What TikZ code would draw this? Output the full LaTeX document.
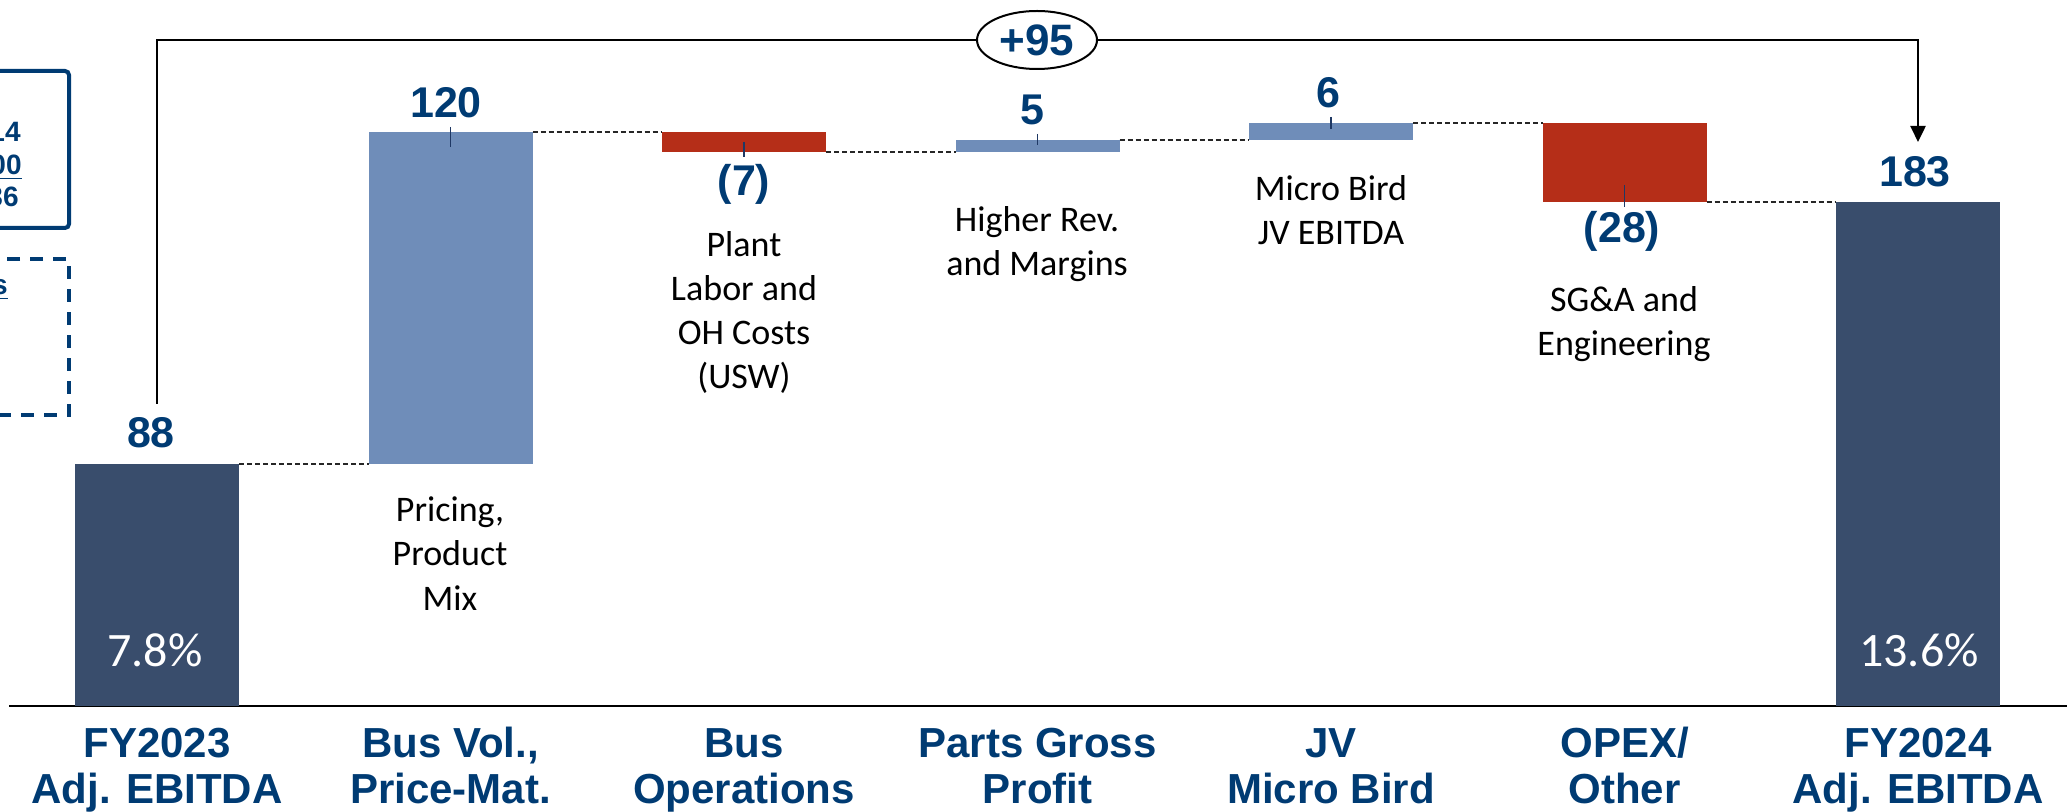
\documentclass[tikz,border=0pt]{standalone}
\usepackage{fontspec}
\setmainfont{Liberation Sans}
\newfontfamily\carl{Carlito}
\usetikzlibrary{arrows.meta,shapes.geometric}
\definecolor{navy}{HTML}{003B73}
\definecolor{darkbar}{HTML}{394D6C}
\definecolor{lightbar}{HTML}{6F8DB9}
\definecolor{redbar}{HTML}{B52E18}
\definecolor{tickc}{HTML}{1F3864}
\newcommand\stk[1]{\begin{tabular}[t]{@{}c@{}}#1\end{tabular}}
\begin{document}
\begin{tikzpicture}[x=0.5pt,y=-0.5pt,
  wbar/.style={rectangle, inner sep=0, outer sep=0, minimum width=82pt, anchor=north, draw=none},
  val/.style={anchor=base, inner sep=0, text=navy, font=\fontsize{21.5}{24}\selectfont\bfseries},
  cat/.style={anchor=base, inner sep=0, text=navy, font=\fontsize{21}{23}\selectfont\bfseries},
  desc/.style={anchor=base, inner sep=0, font=\carl\fontsize{18}{22}\selectfont},
  pct/.style={anchor=base, inner sep=0, text=white, font=\carl\fontsize{24}{26}\selectfont},
  conn/.style={black!85, line width=0.55pt, dash pattern=on 2.5pt off 1.5pt},
  leader/.style={tickc, line width=0.7pt},
  brk/.style={black, line width=1.2pt, line join=miter},
  boxt/.style={anchor=base east, inner sep=0, text=navy, font=\fontsize{14}{16}\selectfont\bfseries}
]
\useasboundingbox (0,0) rectangle (2067,812);

% left boxes (cut at the page edge)
\draw[navy, line width=2pt, rounded corners=2pt] (-30,71) rectangle (69,228);
\node[boxt] (t14) at (21,142) {14};
\node[boxt] (t00) at (22,175) {\underline{00}};
\node[boxt] (t36) at (19,207) {36};
\draw[navy, line width=2pt, dash pattern=on 6.5pt off 5pt] (-30,259) rectangle (69,415);
\node[boxt] (ts) at (8,295) {\underline{s}};

% axis
\coordinate (axL) at (9,706);
\coordinate (axR) at (2067,706);
\draw[black, line width=1pt] (axL) -- (axR);

% bars
\node[wbar, fill=darkbar, minimum height=121pt] (b1) at (157,464) {};
\node[wbar, fill=lightbar, minimum height=166pt] (b2) at (450.5,132) {};
\node[wbar, fill=redbar, minimum height=10pt] (b3) at (744,132) {};
\node[wbar, fill=lightbar, minimum height=6pt] (b4) at (1037.5,140) {};
\node[wbar, fill=lightbar, minimum height=8.5pt] (b5) at (1331,123) {};
\node[wbar, fill=redbar, minimum height=39.5pt] (b6) at (1624.5,123) {};
\node[wbar, fill=darkbar, minimum height=252pt] (b7) at (1918,202) {};

% dashed connectors
\draw[conn] (b1.north east) -- (b2.south west);
\draw[conn] (b2.north east) -- (b3.north west);
\draw[conn] (b3.south east) -- (b4.south west);
\draw[conn] (b4.north east) -- (b5.south west);
\draw[conn] (b5.north east) -- (b6.north west);
\draw[conn] (b6.south east) -- (b7.north west);

% leader ticks
\draw[leader] ([yshift=2.5pt]b2.north) -- ([yshift=-7.5pt]b2.north);
\draw[leader] ([yshift=-5pt]b3.north) -- ([yshift=-12.5pt]b3.north);
\draw[leader] ([yshift=3pt]b4.north) -- ([yshift=-2.5pt]b4.north);
\draw[leader] ([yshift=3pt]b5.north) -- ([yshift=-3pt]b5.north);
\draw[leader] ([yshift=-31pt]b6.north) -- ([yshift=-42pt]b6.north);

% value labels
\node[val] (v1) at (151,448) {88};
\node[val] (v2) at (446,118) {120};
\node[val] (v3) at (744,196) {(7)};
\node[val] (v4) at (1032,125) {5};
\node[val] (v5) at (1328,108) {6};
\node[val] (v6) at (1622,243) {(28)};
\node[val] (v7) at (1915,187) {183};

% percentages
\node[pct] (p1) at (155,666) {7.8\%};
\node[pct] (p7) at (1919,666) {13.6\%};

% descriptions
\node[desc] (d2) at (450,522) {\stk{Pricing,\\Product\\Mix}};
\node[desc] (d3) at (744,257) {\stk{Plant\\Labor and\\OH Costs\\(USW)}};
\node[desc] (d4) at (1037,232) {\stk{Higher Rev.\\and Margins}};
\node[desc] (d5) at (1331,201) {\stk{Micro Bird\\JV EBITDA}};
\node[desc] (d6) at (1624,312) {\stk{SG\&A and\\Engineering}};

% categories
\node[cat] (c1) at (157,757) {\stk{FY2023\\Adj. EBITDA}};
\node[cat] (c2) at (450.5,757) {\stk{Bus Vol.,\\Price-Mat.}};
\node[cat] (c3) at (744,757) {\stk{Bus\\Operations}};
\node[cat] (c4) at (1037.5,757) {\stk{Parts Gross\\Profit}};
\node[cat] (c5) at (1331,757) {\stk{JV\\Micro Bird}};
\node[cat] (c6) at (1624.5,757) {\stk{OPEX/\\Other}};
\node[cat] (c7) at (1918,757) {\stk{FY2024\\Adj. EBITDA}};

% total bracket
\coordinate (bs) at (157,404);
\coordinate (be) at (1918,142);
\node[ellipse, draw=black, line width=1pt, fill=white, minimum width=60pt, minimum height=29pt, inner sep=0,
      text=navy, font=\fontsize{22}{24}\selectfont\bfseries] (tot) at (1037,40) {+95};
\draw[brk] (bs) |- (tot.west);
\draw[brk, -{Triangle[width=7.5pt,length=8pt]}] (tot.east) -| (be);
\end{tikzpicture}
\end{document}
